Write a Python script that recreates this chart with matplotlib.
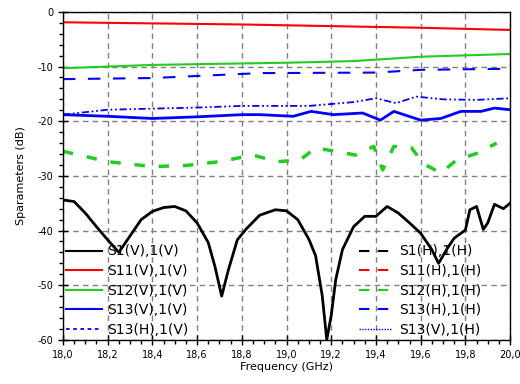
import numpy as np
import matplotlib.pyplot as plt
from matplotlib.lines import Line2D
from matplotlib.ticker import MultipleLocator, FuncFormatter

plt.rcParams['axes.unicode_minus'] = False

# S1(V),1(V) - black solid
f_s1 = [18.0, 18.05, 18.1, 18.15, 18.2, 18.25, 18.3, 18.35, 18.4, 18.45, 18.5, 18.55, 18.6,
        18.65, 18.68, 18.71, 18.74, 18.78, 18.82, 18.88, 18.95, 19.0, 19.05, 19.1, 19.13,
        19.16, 19.18, 19.2, 19.22, 19.25, 19.3, 19.35, 19.4, 19.45, 19.5, 19.55, 19.6,
        19.65, 19.68, 19.72, 19.75, 19.8, 19.82, 19.85, 19.88, 19.9, 19.93, 19.97, 20.0]
s1_v = [-34.4, -34.7, -36.8, -39.3, -41.7, -44.0, -41.0, -38.0, -36.5, -35.8, -35.6, -36.4, -38.6,
        -42.2, -46.6, -52.0, -47.2, -41.7, -39.7, -37.2, -36.2, -36.4, -38.0, -41.6, -44.6,
        -52.0, -60.0, -55.5, -49.0, -43.5, -39.3, -37.4, -37.4, -35.6, -36.8, -38.6, -40.5,
        -43.5, -46.0, -43.2, -41.4, -39.9, -36.2, -35.6, -39.8, -38.6, -35.2, -36.0, -35.0]

# S11(V),1(V) - red solid
f_s11 = [18.0, 18.4, 18.8, 19.2, 19.6, 20.0]
s11_v = [-1.9, -2.1, -2.3, -2.6, -2.9, -3.3]

# S12(V),1(V) - green solid
f_s12 = [18.0, 18.4, 19.0, 19.3, 19.6, 20.0]
s12_v = [-10.3, -9.7, -9.3, -9.0, -8.2, -7.7]

# S13(H),1(H) - blue dashed
f_s13h = [18.0, 18.4, 18.88, 19.4, 19.6, 20.0]
s13_h = [-12.3, -12.1, -11.2, -11.1, -10.6, -10.4]

# S13(V),1(H) - blue dash-dot-dot
f_s13vh = [18.0, 18.2, 18.4, 18.6, 18.8, 19.0, 19.1, 19.3, 19.4, 19.49, 19.58, 19.7, 19.85, 20.0]
s13_vh = [-18.8, -17.9, -17.7, -17.5, -17.2, -17.2, -17.2, -16.5, -15.8, -16.7, -15.5, -16.0, -16.1, -15.8]

# S13(V),1(V) - blue solid
f_s13v = [18.0, 18.2, 18.4, 18.6, 18.8, 18.88, 19.03, 19.11, 19.21, 19.34, 19.42, 19.48,
          19.6, 19.69, 19.78, 19.87, 19.93, 20.0]
s13_v = [-18.8, -19.1, -19.5, -19.2, -18.8, -18.8, -19.1, -18.2, -18.8, -18.5, -19.8, -18.2,
         -19.8, -19.5, -18.2, -18.2, -17.6, -17.9]

# S12(H),1(H) - green dashed
f_s12h = [18.0, 18.2, 18.4, 18.55, 18.7, 18.85, 18.96, 19.06, 19.13, 19.22, 19.31, 19.39,
          19.43, 19.48, 19.56, 19.61, 19.69, 19.76, 19.85, 19.94]
s12_h = [-25.5, -27.4, -28.3, -28.1, -27.4, -26.2, -27.4, -27.1, -24.9, -25.5, -26.2, -24.6,
         -28.9, -24.6, -24.9, -27.7, -29.5, -27.1, -25.9, -24.0]

fig = plt.figure(figsize=(5.2, 3.84), dpi=100)
ax = fig.add_axes([0.121, 0.115, 0.86, 0.854])

ax.plot(f_s1, s1_v, color='black', lw=2)
ax.plot(f_s11, s11_v, color='red', lw=1.5)
ax.plot(f_s12, s12_v, color='#22cc22', lw=1.5)
ax.plot(f_s13h, s13_h, color='blue', lw=1.5, dashes=(6, 6))
ax.plot(f_s13vh, s13_vh, color='blue', lw=1.3, dashes=(4, 1.5, 1, 1.5, 1, 1.5))
ax.plot(f_s13v, s13_v, color='blue', lw=2)
ax.plot(f_s12h, s12_h, color='#22cc22', lw=2.5, dashes=(3, 4))

ax.set_xlim(18.0, 20.0)
ax.set_ylim(-60, 0)
ax.xaxis.set_major_locator(MultipleLocator(0.2))
ax.xaxis.set_minor_locator(MultipleLocator(0.05))
ax.yaxis.set_major_locator(MultipleLocator(10))
ax.yaxis.set_minor_locator(MultipleLocator(2))
ax.xaxis.set_major_formatter(FuncFormatter(lambda v, p: f'{v:.1f}'.replace('.', ',')))
ax.tick_params(which='major', direction='inout', length=7, width=1, labelsize=7)
ax.tick_params(which='minor', direction='out', length=3, width=1)
ax.grid(True, which='major', color='#808080', lw=1, dashes=(4, 3))
for s in ax.spines.values():
    s.set_linewidth(1)

ax.set_xlabel('Frequency (GHz)', fontsize=8, labelpad=2)
ax.set_ylabel('Sparameters (dB)', fontsize=8, labelpad=8)

h_left = [Line2D([], [], color='black', lw=1.5),
          Line2D([], [], color='red', lw=1.5),
          Line2D([], [], color='#22cc22', lw=1.5),
          Line2D([], [], color='blue', lw=1.5),
          Line2D([], [], color='blue', lw=1.3, dashes=(2, 2))]
l_left = ['S1(V),1(V)', 'S11(V),1(V)', 'S12(V),1(V)', 'S13(V),1(V)', 'S13(H),1(V)']
h_right = [Line2D([], [], color='black', lw=1.5, dashes=(5, 4)),
           Line2D([], [], color='red', lw=1.5, dashes=(5, 4)),
           Line2D([], [], color='#22cc22', lw=1.5, dashes=(5, 4)),
           Line2D([], [], color='blue', lw=1.5, dashes=(5, 4)),
           Line2D([], [], color='blue', lw=1, dashes=(1, 1))]
l_right = ['S1(H),1(H)', 'S11(H),1(H)', 'S12(H),1(H)', 'S13(H),1(H)', 'S13(V),1(H)']

leg1 = ax.legend(h_left, l_left, loc='lower left', bbox_to_anchor=(-0.015, -0.02),
                 frameon=False, fontsize=10, handlelength=2.6, handletextpad=0.35,
                 labelspacing=0.4, borderpad=0.2)
ax.add_artist(leg1)
ax.legend(h_right, l_right, loc='lower left', bbox_to_anchor=(0.64, -0.02),
          frameon=False, fontsize=10, handlelength=2.3, handletextpad=0.6,
          labelspacing=0.4, borderpad=0.2)

fig.savefig('out.png', dpi=100)
